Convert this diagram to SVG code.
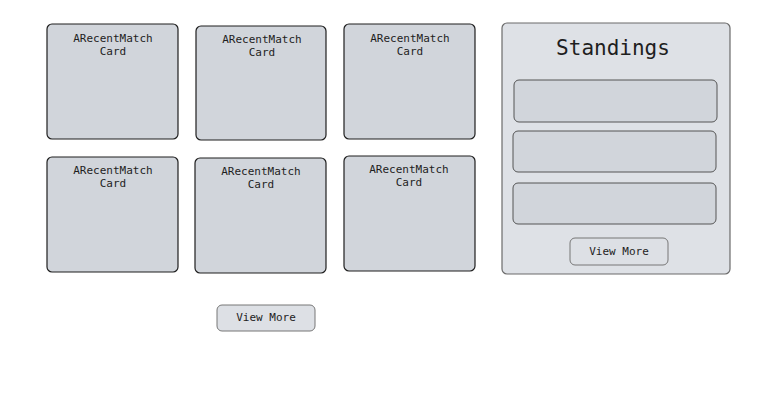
<svg xmlns="http://www.w3.org/2000/svg" width="776" height="402" viewBox="0 0 776 402">
<style>
.card{fill:#d1d5db;stroke:#1e1e1e;stroke-width:1.2}
.panel{fill:#dee1e6;stroke:#6b6b6b;stroke-width:1.2}
.row{fill:#d1d5db;stroke:#555;stroke-width:1}
.btn{fill:#dde0e5;stroke:#777;stroke-width:1}
.t{font-family:"DejaVu Sans Mono","Liberation Mono",monospace;font-size:11px;fill:#1e1e1e;text-anchor:middle}
.h{font-family:"DejaVu Sans Mono","Liberation Mono",monospace;font-size:21px;fill:#1e1e1e;text-anchor:middle}
</style>
<rect width="776" height="402" fill="#ffffff"/>
<g id="card1"><rect class="card" x="47" y="24" width="131" height="115" rx="5"/><text class="t" x="113" y="42">ARecentMatch</text><text class="t" x="113" y="55">Card</text></g>
<g id="card2"><rect class="card" x="196" y="26" width="130" height="114" rx="5"/><text class="t" x="262" y="43">ARecentMatch</text><text class="t" x="262" y="56">Card</text></g>
<g id="card3"><rect class="card" x="344" y="24" width="131" height="115" rx="5"/><text class="t" x="410" y="42">ARecentMatch</text><text class="t" x="410" y="55">Card</text></g>
<g id="card4"><rect class="card" x="47" y="157" width="131" height="115" rx="5"/><text class="t" x="113" y="174">ARecentMatch</text><text class="t" x="113" y="187">Card</text></g>
<g id="card5"><rect class="card" x="195" y="158" width="131" height="115" rx="5"/><text class="t" x="261" y="175">ARecentMatch</text><text class="t" x="261" y="188">Card</text></g>
<g id="card6"><rect class="card" x="344" y="156" width="131" height="115" rx="5"/><text class="t" x="409" y="173">ARecentMatch</text><text class="t" x="409" y="186">Card</text></g>
<g id="standings">
<rect class="panel" x="502" y="23" width="228" height="251" rx="5"/>
<text class="h" x="613" y="55">Standings</text>
<rect class="row" x="514" y="80" width="203" height="42" rx="5"/>
<rect class="row" x="513" y="131" width="203" height="41" rx="5"/>
<rect class="row" x="513" y="183" width="203" height="41" rx="5"/>
</g>
<g id="viewMoreStandings"><rect class="btn" x="570" y="238" width="98" height="27" rx="5"/><text class="t" x="619" y="255">View More</text></g>
<g id="viewMoreMatches"><rect class="btn" x="217" y="305" width="98" height="26" rx="5"/><text class="t" x="266" y="321">View More</text></g>
<g id="connectors"/>
</svg>
